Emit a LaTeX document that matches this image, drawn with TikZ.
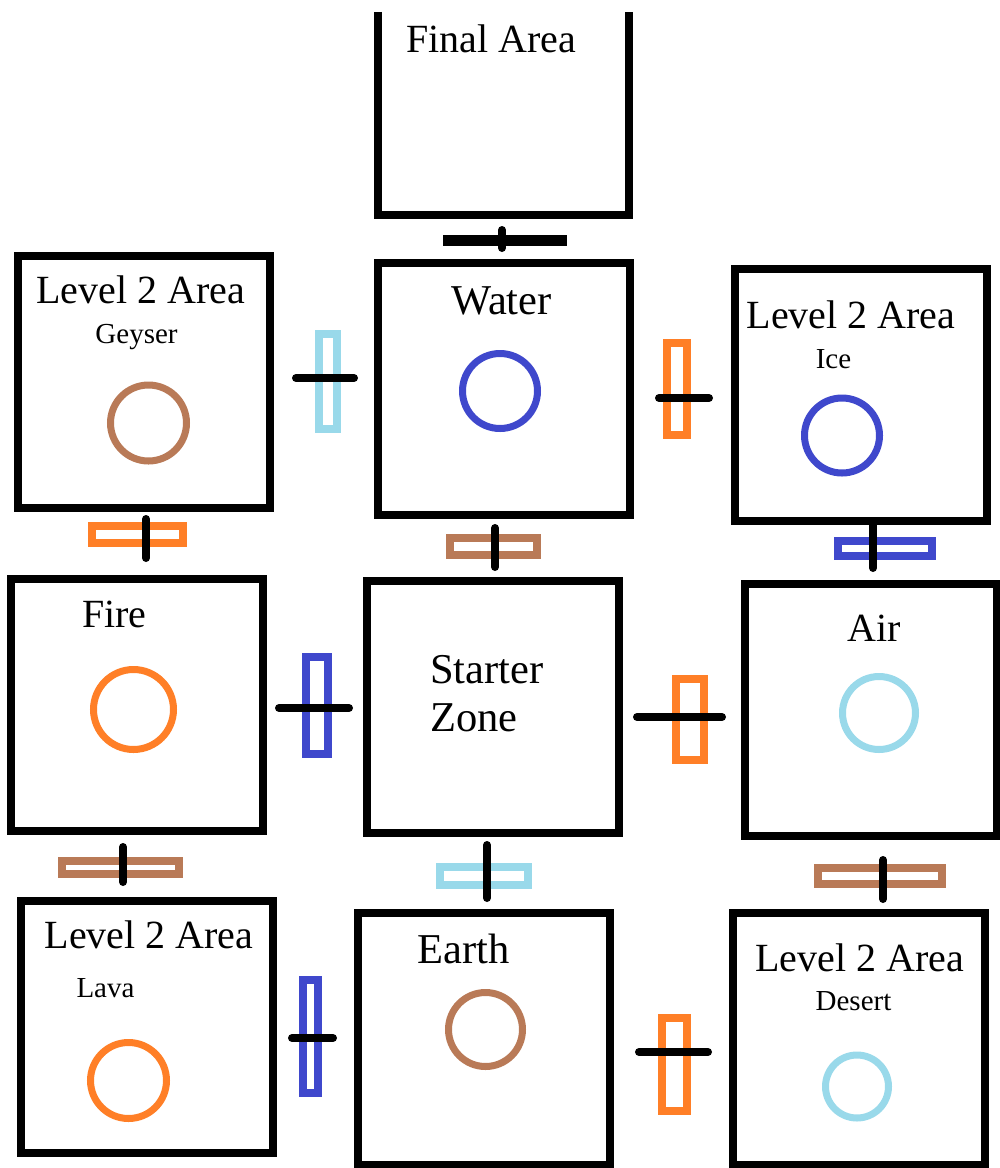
\documentclass[tikz,border=0pt]{standalone}
\usepackage{fontspec}
\setmainfont{Liberation Serif}
\definecolor{gateorange}{HTML}{FF7F27}
\definecolor{gatecyan}{HTML}{99D9EA}
\definecolor{gateblue}{HTML}{3F48CC}
\definecolor{gatebrown}{HTML}{B97A57}
\tikzset{
  room/.style={draw=black, line width=8pt, inner sep=0pt, minimum width=252pt, minimum height=252pt},
  orb/.style={draw=#1, line width=7pt, circle, inner sep=0pt},
  gate/.style={draw=#1, line width=7.5pt, rectangle, inner sep=0pt},
  bar/.style={draw=black, line width=8pt, line cap=round},
  heavybar/.style={draw=black, line width=11pt},
  title/.style={anchor=base, inner sep=0pt, font=\fontsize{40}{48}\selectfont},
  bigtitle/.style={anchor=base, inner sep=0pt, font=\fontsize{42.5}{50}\selectfont},
  subtitle/.style={anchor=base, inner sep=0pt, font=\fontsize{29}{35}\selectfont}
}
\begin{document}
\begin{tikzpicture}[x=1pt, y=-1pt]
\useasboundingbox (0,0) rectangle (1000,1168);

% rooms
\node[minimum width=251pt, minimum height=203pt, inner sep=0pt] (final) at (503.5,113.5) {};
\draw[line width=8pt] (final.north west) |- (final.south east) -- (final.north east);
\node[room] (water)   at (503.75,388.5) {};
\node[room] (geyser)  at (143.75,381.5) {};
\node[room] (ice)     at (860.5,394.75) {};
\node[room] (fire)    at (137,704.75) {};
\node[room] (starter) at (493,707) {};
\node[room] (air)     at (871,710) {};
\node[room] (lava)    at (146.5,1026.75) {};
\node[room] (earth)   at (483.5,1038.5) {};
\node[room] (desert)  at (858.5,1038.75) {};

% room labels
\node[title] (tfinal) at (491,52) {Final Area};
\node[title] (tgeyser) at (140.5,303) {Level 2 Area};
\node[subtitle] (sgeyser) at (136.5,343) {Geyser};
\node[bigtitle] (twater) at (501.5,314) {Water};
\node[title] (tice) at (851,328) {Level 2 Area};
\node[subtitle] (sice) at (833.5,368) {Ice};
\node[title] (tfire) at (114.5,627) {Fire};
\node[bigtitle] (tstarter) at (487,683) {Starter};
\node[bigtitle] (tzone) at (474,731) {Zone};
\node[title] (tair) at (874.5,641) {Air};
\node[title] (tlava) at (149,948) {Level 2 Area};
\node[subtitle] (slava) at (105.5,997) {Lava};
\node[bigtitle] (tearth) at (464,963) {Earth};
\node[title] (tdesert) at (859.5,971) {Level 2 Area};
\node[subtitle] (sdesert) at (853.5,1010) {Desert};

% element orbs
\node[orb=gatebrown, minimum size=76pt]  (ogeyser) at (148.5,423) {};
\node[orb=gateblue, minimum size=75pt]   (owater)  at (500,391) {};
\node[orb=gateblue, minimum size=75pt]   (oice)    at (842,435.5) {};
\node[orb=gateorange, minimum size=80pt] (ofire)   at (133.5,709.5) {};
\node[orb=gatecyan, minimum size=73pt]   (oair)    at (879,713) {};
\node[orb=gateorange, minimum size=76pt] (olava)   at (128.5,1080.5) {};
\node[orb=gatebrown, minimum size=74pt]  (oearth)  at (485.5,1029.5) {};
\node[orb=gatecyan, minimum size=63pt]   (odesert) at (857,1086.5) {};

% gates between rooms
\node[gate=gatecyan,   minimum width=18pt,  minimum height=95pt]  (g1)  at (328,381.5) {};
\node[gate=gateorange, minimum width=20pt,  minimum height=92pt]  (g2)  at (677,389) {};
\node[gate=gateorange, minimum width=91pt,  minimum height=17pt]  (g3)  at (137.5,534.5) {};
\node[gate=gatebrown,  minimum width=87pt,  minimum height=17pt]  (g4)  at (493.5,546.5) {};
\node[gate=gateblue,   minimum width=94pt,  minimum height=15pt]  (g5)  at (885,548.5) {};
\node[gate=gateblue,   minimum width=22pt,  minimum height=97pt]  (g6)  at (317,705.5) {};
\node[gate=gateorange, minimum width=28pt,  minimum height=81pt]  (g7)  at (690,719.5) {};
\node[gate=gatebrown,  minimum width=117pt, minimum height=13pt]  (g8)  at (120.5,867.5) {};
\node[gate=gatecyan,   minimum width=88pt,  minimum height=18pt]  (g9)  at (484,876) {};
\node[gate=gatebrown,  minimum width=124pt, minimum height=16pt]  (g10) at (880,876) {};
\node[gate=gateblue,   minimum width=15pt,  minimum height=113pt] (g11) at (310.5,1036.5) {};
\node[gate=gateorange, minimum width=25pt,  minimum height=93pt]  (g12) at (674.5,1064.5) {};

% passage bars
\coordinate (p0a) at (443,240);  \coordinate (p0b) at (567,240);
\coordinate (p0c) at (502,230);  \coordinate (p0d) at (502,248);
\draw[heavybar] (p0a) -- (p0b);
\draw[bar] (p0c) -- (p0d);

\coordinate (p1a) at (296,378);  \coordinate (p1b) at (354,378);
\coordinate (p2a) at (659,398);  \coordinate (p2b) at (709,398);
\coordinate (p3a) at (146,519);  \coordinate (p3b) at (146,558);
\coordinate (p4a) at (495,528);  \coordinate (p4b) at (495,567);
\coordinate (p5a) at (873,524);  \coordinate (p5b) at (873,568);
\coordinate (p6a) at (279,708);  \coordinate (p6b) at (349,708);
\coordinate (p7a) at (637,717);  \coordinate (p7b) at (722,717);
\coordinate (p8a) at (123,847);  \coordinate (p8b) at (123,882);
\coordinate (p9a) at (487,845);  \coordinate (p9b) at (487,898);
\coordinate (p10a) at (883,860); \coordinate (p10b) at (883,899);
\coordinate (p11a) at (292,1038); \coordinate (p11b) at (333,1038);
\coordinate (p12a) at (639,1052); \coordinate (p12b) at (708,1052);

\foreach \n in {1,...,12} {
  \draw[bar] (p\n a) -- (p\n b);
}
\end{tikzpicture}
\end{document}
